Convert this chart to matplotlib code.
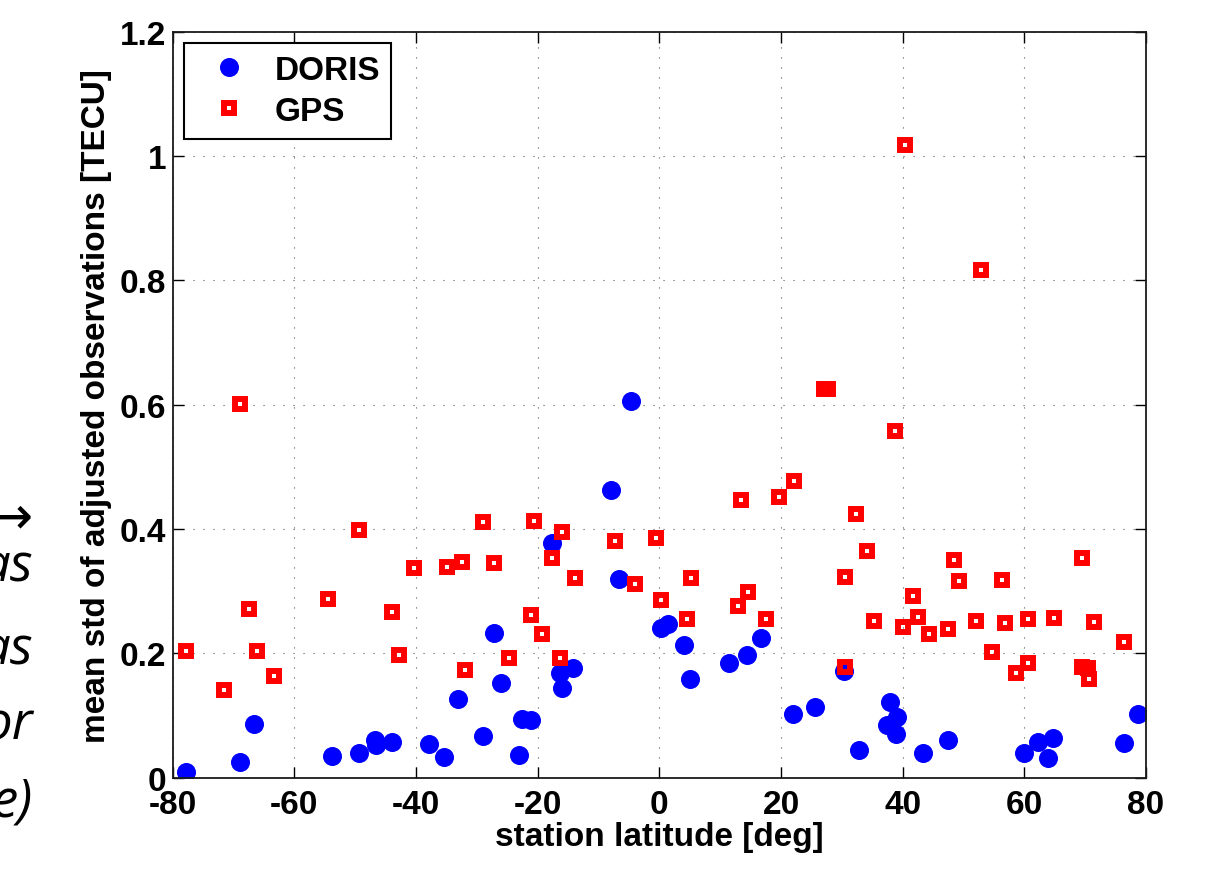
import matplotlib
matplotlib.use("Agg")
import matplotlib.pyplot as plt
from matplotlib.ticker import FuncFormatter

# station latitude [deg] and mean std [TECU]
doris_lat = [-77.8, -69.0, -66.6, -53.8, -49.4, -46.8, -46.5, -44.0, -37.8, -35.35,
             -33.15, -29.0, -27.2, -26.0, -23.1, -22.5, -21.1, -17.65, -16.4, -14.25,
             -15.95, -8.0, -6.6, -4.7, 0.26, 1.36, 4.1, 5.0, 11.4, 14.4,
             16.7, 22.0, 25.6, 30.3, 32.75, 37.45, 37.9, 38.9, 39.0, 43.4,
             47.4, 60.0, 62.3, 63.9, 64.7, 76.3, 78.7]
doris_std = [0.009, 0.025, 0.087, 0.035, 0.040, 0.060, 0.052, 0.058, 0.054, 0.034,
             0.126, 0.067, 0.232, 0.152, 0.036, 0.095, 0.093, 0.378, 0.169, 0.176,
             0.145, 0.462, 0.320, 0.606, 0.241, 0.247, 0.213, 0.159, 0.184, 0.197,
             0.225, 0.102, 0.114, 0.172, 0.045, 0.085, 0.122, 0.070, 0.097, 0.040,
             0.060, 0.039, 0.058, 0.032, 0.064, 0.055, 0.103]

gps_lat = [-77.8, -71.6, -68.9, -67.5, -66.2, -63.3, -54.5, -49.3, -44.0, -42.8,
           -40.3, -34.96, -32.4, -31.9, -28.9, -27.2, -24.7, -21.05, -20.6, -19.3,
           -17.7, -16.0, -16.4, -13.9, -7.3, -4.0, -0.6, 0.3, 4.6, 5.2,
           13.0, 13.5, 14.6, 17.6, 19.7, 22.1, 27.05, 27.75, 30.5, 30.5,
           32.3, 34.2, 35.3, 38.8, 40.1, 40.4, 41.7, 42.5, 44.4, 47.5,
           48.4, 49.2, 52.1, 52.9, 54.6, 56.25, 56.75, 58.55, 60.6, 60.6,
           64.8, 69.4, 69.45, 70.4, 70.55, 71.4, 76.3]
gps_std = [0.204, 0.141, 0.601, 0.271, 0.204, 0.163, 0.287, 0.399, 0.267, 0.198,
           0.337, 0.339, 0.347, 0.173, 0.411, 0.345, 0.193, 0.262, 0.413, 0.231,
           0.353, 0.396, 0.192, 0.322, 0.381, 0.311, 0.386, 0.286, 0.255, 0.322,
           0.276, 0.447, 0.299, 0.255, 0.451, 0.478, 0.625, 0.626, 0.323, 0.178,
           0.424, 0.365, 0.252, 0.558, 0.242, 1.018, 0.292, 0.258, 0.231, 0.239,
           0.350, 0.316, 0.252, 0.816, 0.202, 0.318, 0.249, 0.168, 0.256, 0.185,
           0.257, 0.178, 0.354, 0.176, 0.158, 0.250, 0.219]

# cut-off slide text on the left edge
side_text = ["\u2192", "as", "as", "or", "e)"]
side_y = [533, 582, 665, 740, 817]

plt.rcParams['font.family'] = ['Liberation Sans', 'DejaVu Sans']
plt.rcParams['font.weight'] = 'bold'
plt.rcParams['axes.unicode_minus'] = False

fig = plt.figure(figsize=(12.07, 8.70), dpi=100)
ax = fig.add_axes([0.143, 0.105, 0.8065, 0.8573])

ax.plot(doris_lat, doris_std, 'o', color=(0, 0, 1), ms=13.7, mew=0, label='DORIS')
ax.plot(gps_lat, gps_std, 's', mfc='none', mec=(1, 0, 0), ms=7.2, mew=4.3, label='GPS')

ax.set_xlim(-80, 80)
ax.set_ylim(0, 1.2)
ax.set_xticks(range(-80, 81, 20))
ax.set_yticks([0, 0.2, 0.4, 0.6, 0.8, 1.0, 1.2])
ax.yaxis.set_major_formatter(FuncFormatter(lambda v, p: '%g' % round(v, 2)))

ax.grid(True, color='0.35', linestyle=(0, (1, 8)), linewidth=0.8)
ax.tick_params(direction='in', length=8, width=1.0, top=True, right=True,
               labelsize=24, colors='black')
ax.tick_params(axis='x', pad=8)
ax.tick_params(axis='y', pad=4.5)
for s in ax.spines.values():
    s.set_linewidth(1.3)
    s.set_color('0.1')

ax.set_xlabel('station latitude [deg]', fontsize=24, fontweight='bold', labelpad=1)
ax.set_ylabel('mean std of adjusted observations [TECU]', fontsize=24,
              fontweight='bold', labelpad=6)

leg = ax.legend(loc='upper left', fontsize=24, frameon=True, fancybox=False,
                borderaxespad=0.35, borderpad=0.35, labelspacing=0.3,
                handlelength=2.0, handletextpad=0.35, numpoints=1)
leg.get_frame().set_edgecolor('black')
leg.get_frame().set_linewidth(1.5)
leg.get_frame().set_alpha(1)

for t, y in zip(side_text, side_y):
    fig.text(33 / 1207, 1 - y / 870, t, ha='right', va='baseline',
             fontsize=38, fontweight='normal', style='italic',
             family=['Open Sans', 'DejaVu Sans'])

fig.savefig('out.png', dpi=100)
